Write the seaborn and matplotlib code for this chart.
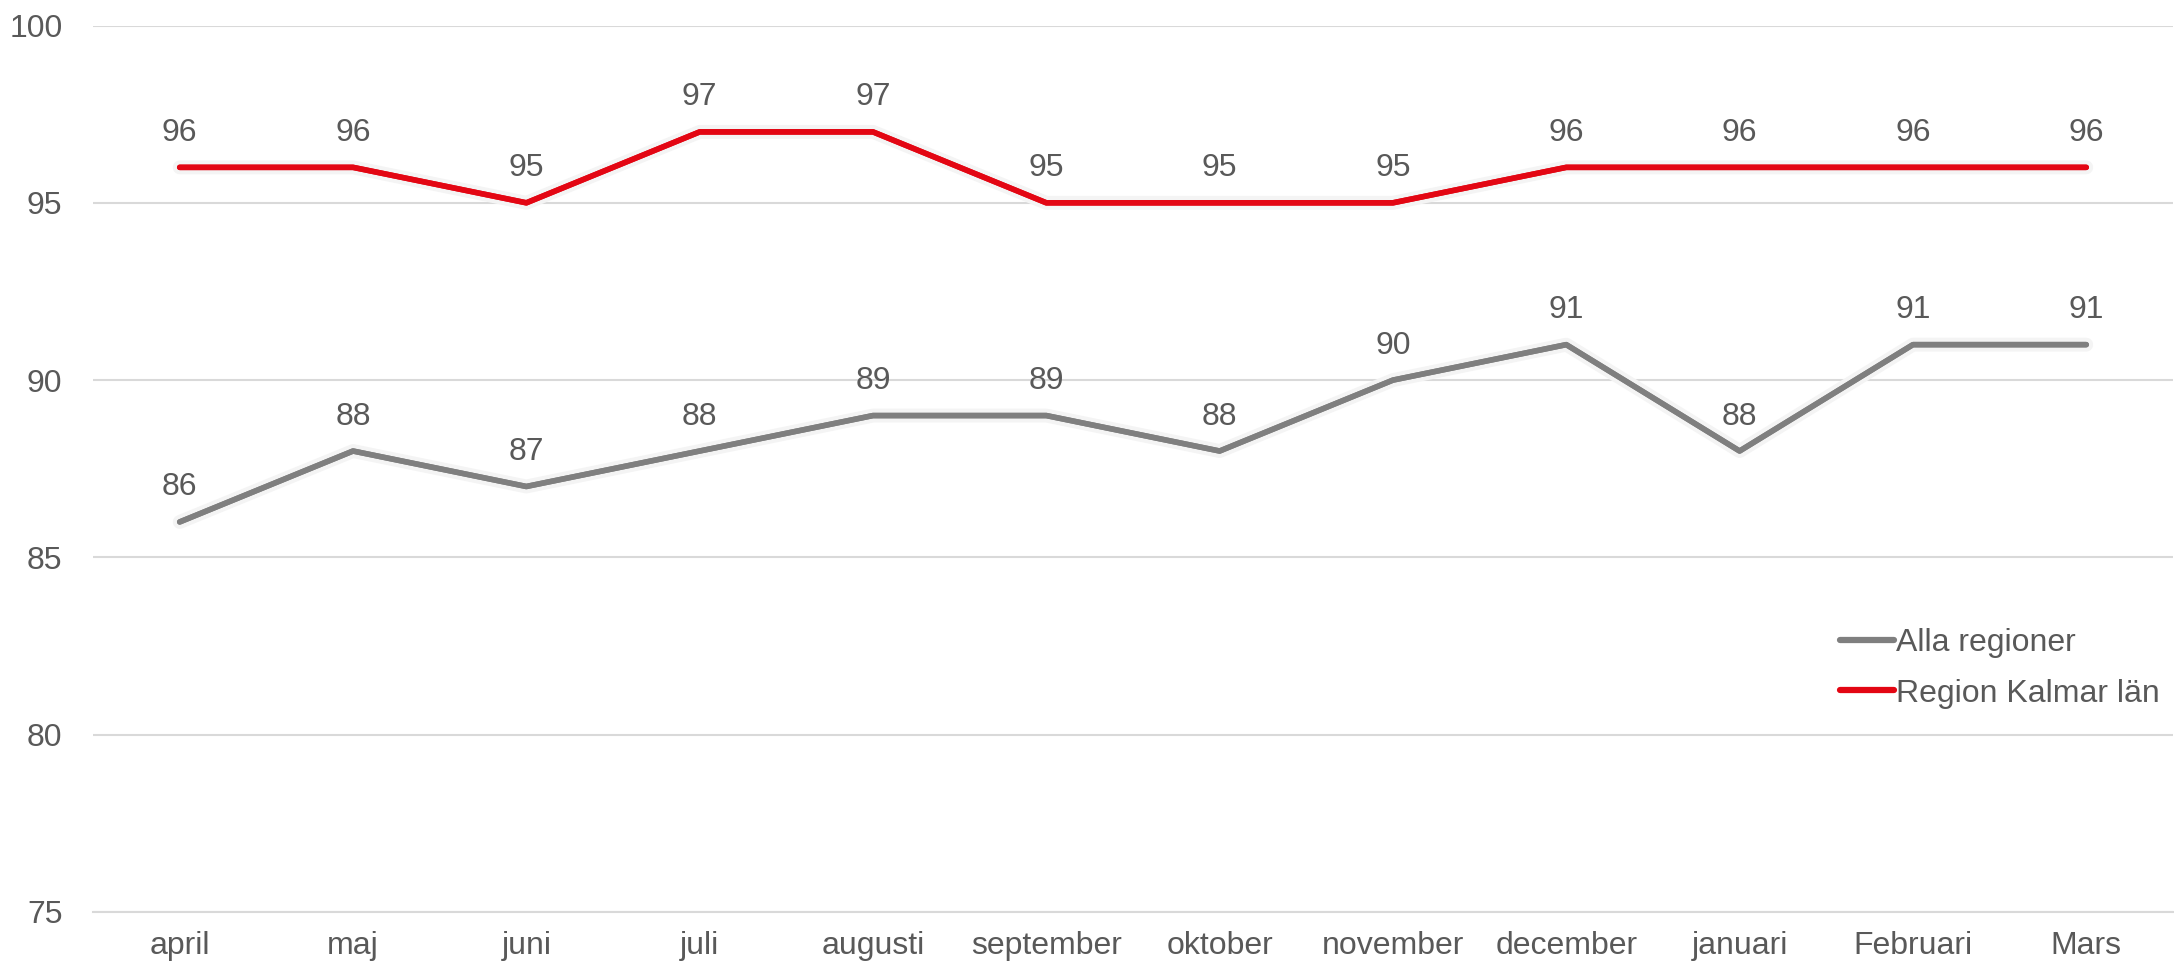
import pandas as pd
import matplotlib
matplotlib.use('Agg')
import matplotlib.pyplot as plt
import matplotlib.patheffects as pe
import seaborn as sns

# data
months = ['april', 'maj', 'juni', 'juli', 'augusti', 'september', 'oktober',
          'november', 'december', 'januari', 'Februari', 'Mars']
alla_regioner = [86, 88, 87, 88, 89, 89, 88, 90, 91, 88, 91, 91]
region_kalmar = [96, 96, 95, 97, 97, 95, 95, 95, 96, 96, 96, 96]
series_names = ['Alla regioner', 'Region Kalmar län']

df = pd.DataFrame({
    'month': months * 2,
    'x': list(range(len(months))) * 2,
    'value': alla_regioner + region_kalmar,
    'serie': [series_names[0]] * len(months) + [series_names[1]] * len(months),
})

sns.set_style('white')
plt.rcParams['font.family'] = ['Liberation Sans', 'DejaVu Sans']
text_col = '#595959'
grid_col = '#d9d9d9'
palette = {series_names[0]: '#7f7f7f', series_names[1]: '#e30613'}

fig = plt.figure(figsize=(21.74, 9.67), dpi=100)
ax = fig.add_axes([0.0428, 0.0569, 0.9567, 0.9167])

sns.lineplot(data=df, x='x', y='value', hue='serie', hue_order=series_names,
             palette=palette, linewidth=4, ax=ax, legend=True,
             path_effects=[pe.withStroke(linewidth=10, foreground='#f4f4f4'), pe.Normal()])

# data labels
for name, vals in zip(series_names, [alla_regioner, region_kalmar]):
    for i, v in enumerate(vals):
        ax.annotate(str(v), (i, v), xytext=(0, 14), textcoords='offset points',
                    ha='center', va='bottom', fontsize=23, color=text_col)

ax.set_xlim(-0.5, len(months) - 0.5)
ax.set_ylim(75, 100)
ax.set_yticks(range(75, 101, 5))
ax.set_xticks(range(len(months)))
ax.set_xticklabels(months)
ax.set_xticks([i - 0.5 for i in range(len(months) + 1)], minor=True)
ax.tick_params(axis='x', which='major', length=0, pad=14, labelsize=23, labelcolor=text_col)
ax.tick_params(axis='x', which='minor', length=8, width=1.5, color=grid_col)
ax.tick_params(axis='y', length=0, pad=22, labelsize=23, labelcolor=text_col)
ax.grid(axis='y', color=grid_col, linewidth=1.5)
ax.set_axisbelow(True)
for s in ['top', 'right', 'left']:
    ax.spines[s].set_visible(False)
ax.spines['bottom'].set_color(grid_col)
ax.spines['bottom'].set_linewidth(1.5)
ax.set_xlabel('')
ax.set_ylabel('')

leg = ax.legend(loc='center left', bbox_to_anchor=(0.826, 0.275), frameon=False,
                fontsize=23, handlelength=1.7, handletextpad=0.05, labelspacing=0.65)
for t in leg.get_texts():
    t.set_color(text_col)
for h in leg.get_lines():
    h.set_linewidth(4.5)
    h.set_path_effects([])

fig.savefig('out.png', dpi=100)
